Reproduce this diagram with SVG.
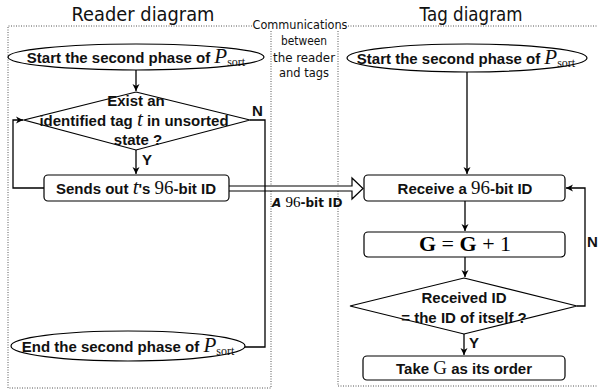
<svg xmlns="http://www.w3.org/2000/svg" width="598" height="392" viewBox="0 0 598 392">
<defs>
<marker id="ah" markerWidth="8" markerHeight="8" refX="7" refY="4" orient="auto" markerUnits="userSpaceOnUse">
<path d="M0,0.5 L7,4 L0,7.5 L2,4 z" fill="#000"/>
</marker>
<style>
.frame{fill:none;stroke:#555;stroke-width:1;stroke-dasharray:1 1.5}
.ln{fill:none;stroke:#000;stroke-width:1.3}
.nd{fill:#fff;stroke:#000;stroke-width:1.2}
.b{font-family:"Liberation Sans",Arial,sans-serif;font-weight:bold;font-size:15px;fill:#111}
.m{font-family:"Liberation Serif","Times New Roman",serif;font-style:italic;font-weight:normal;font-size:21px}
.mu{font-family:"Liberation Serif","Times New Roman",serif;font-style:normal;font-weight:normal;font-size:19px}
.sub{font-family:"Liberation Serif","Times New Roman",serif;font-style:normal;font-weight:normal;font-size:12px}
.c{font-family:"DejaVu Sans","Noto Sans",sans-serif;fill:#111}
</style>
</defs>
<rect width="598" height="392" fill="#fff"/>
<g id="frames">
<path class="frame" d="M252,26 H8 V388 H271 V31"/>
<path class="frame" d="M348,26 H597 M338,31 V386 H597"/>
</g>
<g id="titles">
<text class="c" x="143" y="21" font-size="19" text-anchor="middle" textLength="143" lengthAdjust="spacingAndGlyphs">Reader diagram</text>
<text class="c" x="471" y="21" font-size="19" text-anchor="middle" textLength="103" lengthAdjust="spacingAndGlyphs">Tag diagram</text>
<text class="c" x="300" y="29" font-size="12.5" text-anchor="middle" textLength="95" lengthAdjust="spacingAndGlyphs">Communications</text>
<text class="c" x="304" y="45" font-size="12.5" text-anchor="middle" textLength="46" lengthAdjust="spacingAndGlyphs">between</text>
<text class="c" x="304" y="62" font-size="12.5" text-anchor="middle" textLength="62" lengthAdjust="spacingAndGlyphs">the reader</text>
<text class="c" x="304" y="77" font-size="12.5" text-anchor="middle" textLength="50" lengthAdjust="spacingAndGlyphs">and tags</text>
</g>
<g id="connectors">
<path d="M229,186 H352 V178 L363,188.5 L352,199 V191 H229" fill="#fff" stroke="#000" stroke-width="1.2"/>
<text x="272" y="207" font-size="12"><tspan class="c" font-weight="bold" font-style="italic">A </tspan><tspan font-family="Liberation Serif,serif" font-size="15">96</tspan><tspan class="c" font-weight="bold">-bit ID</tspan></text>
<path class="ln" d="M136,70 V91" marker-end="url(#ah)"/>
<path class="ln" d="M136,150 V174" marker-end="url(#ah)"/>
<path class="ln" d="M44,188 H13 V120 H23" marker-end="url(#ah)"/>
<path class="ln" d="M250,120 H265 V347 H245"/>
<path class="ln" d="M467,72 V174" marker-end="url(#ah)"/>
<path class="ln" d="M465,201 V231" marker-end="url(#ah)"/>
<path class="ln" d="M465,257 V277" marker-end="url(#ah)"/>
<path class="ln" d="M464,334 V355" marker-end="url(#ah)"/>
<path class="ln" d="M577,306 H585 V188 H566" marker-end="url(#ah)"/>
<text class="b" x="142" y="165">Y</text>
<text class="b" x="252" y="116">N</text>
<text class="b" x="469" y="348">Y</text>
<text class="b" x="587" y="247">N</text>
</g>
<g id="r_start">
<ellipse class="nd" cx="136" cy="57" rx="128" ry="13"/>
<text class="b" x="136" y="63" text-anchor="middle">Start the second phase of <tspan class="m">P</tspan><tspan class="sub" dy="3">sort</tspan></text>
</g>
<g id="r_exist">
<path class="nd" d="M136,92 L250,120 L136,150 L24,120 z"/>
<text class="b" x="136" y="106" text-anchor="middle">Exist an</text>
<text class="b" x="134" y="126" text-anchor="middle">identified tag <tspan class="m" font-size="17">t</tspan> in unsorted</text>
<text class="b" x="138" y="145" text-anchor="middle">state ?</text>
</g>
<g id="r_send">
<rect class="nd" x="44" y="175" width="185" height="26" rx="4"/>
<text class="b" x="136" y="194" text-anchor="middle">Sends out <tspan class="m" font-size="18">t</tspan>'s <tspan class="mu">96</tspan>-bit ID</text>
</g>
<g id="r_end">
<ellipse class="nd" cx="128" cy="346" rx="117" ry="15"/>
<text class="b" x="128" y="352" text-anchor="middle">End the second phase of <tspan class="m">P</tspan><tspan class="sub" dy="3">sort</tspan></text>
</g>
<g id="t_start">
<ellipse class="nd" cx="467" cy="58" rx="120" ry="14"/>
<text class="b" x="466" y="64" text-anchor="middle">Start the second phase of <tspan class="m">P</tspan><tspan class="sub" dy="3">sort</tspan></text>
</g>
<g id="t_receive">
<rect class="nd" x="364" y="175" width="201" height="26" rx="4"/>
<text class="b" x="465" y="194" text-anchor="middle">Receive a <tspan class="mu">96</tspan>-bit ID</text>
</g>
<g id="t_inc">
<rect class="nd" x="364" y="232" width="201" height="25" rx="4"/>
<text x="465" y="251" text-anchor="middle" font-family="Liberation Serif,serif" font-size="22"><tspan font-weight="bold">G</tspan> = <tspan font-weight="bold">G</tspan> + 1</text>
</g>
<g id="t_check">
<path class="nd" d="M464,278 L577,306 L464,334 L350,306 z"/>
<text class="b" x="464" y="303" text-anchor="middle">Received ID</text>
<text class="b" x="464" y="323" text-anchor="middle">= the ID of itself ?</text>
</g>
<g id="t_take">
<rect class="nd" x="363" y="356" width="202" height="24" rx="4"/>
<text class="b" x="464" y="374" text-anchor="middle">Take <tspan class="mu" font-size="21">G</tspan> as its order</text>
</g>
</svg>
